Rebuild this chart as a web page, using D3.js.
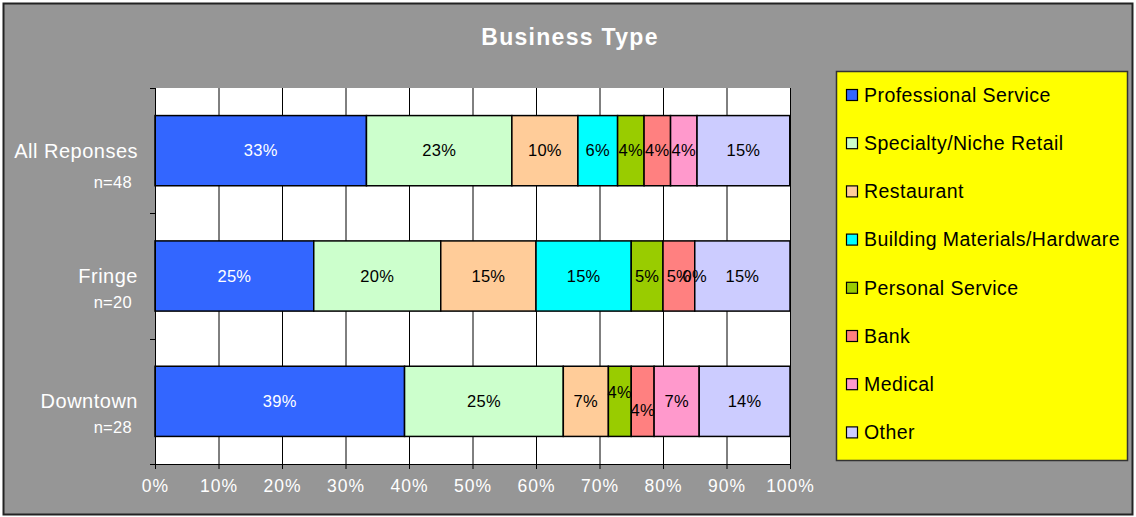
<!DOCTYPE html>
<html>
<head>
<meta charset="utf-8">
<script src="https://cdn.jsdelivr.net/npm/d3@7"></script>
<style>
  body { margin: 0; background: #fff; }
  svg { display: block; font-family: "Liberation Sans", Arial, sans-serif; }
</style>
</head>
<body>
<div id="chart"></div>
<script>
var categories = ['All Reponses', 'Fringe', 'Downtown'];
var counts = ['n=48', 'n=20', 'n=28'];
var seriesNames = ['Professional Service', 'Specialty/Niche Retail', 'Restaurant',
  'Building Materials/Hardware', 'Personal Service', 'Bank', 'Medical', 'Other'];
var seriesColors = ['#3366ff', '#ccffcc', '#ffcc99', '#00ffff', '#99cc00', '#ff8080', '#ff99cc', '#ccccff'];
// percent share per category, in series order (null = no data)
var allValues = [33.3, 22.9, 10.4, 6.25, 4.17, 4.17, 4.17, 14.6];
var fringeValues = [25, 20, 15, 15, 5, 5, 0, 15];
var downtownValues = [39.3, 25, 7.1, null, 3.6, 3.6, 7.1, 14.3];
var xTicks = [0, 10, 20, 30, 40, 50, 60, 70, 80, 90, 100];

var values = [allValues, fringeValues, downtownValues];

var W = 1136, H = 517;
var plot = { left: 155, right: 790, top: 88, bottom: 464 };

var svg = d3.select('#chart').append('svg')
    .attr('width', W)
    .attr('height', H);

// chart background and frame
svg.append('rect')
    .attr('x', 3.5).attr('y', 3.5)
    .attr('width', 1129).attr('height', 511)
    .attr('fill', '#969696')
    .attr('stroke', '#222').attr('stroke-width', 2);

svg.append('text')
    .attr('x', 570).attr('y', 45)
    .attr('text-anchor', 'middle')
    .attr('fill', '#fff')
    .attr('font-size', 23).attr('font-weight', 'bold')
    .attr('letter-spacing', 1.3)
    .text('Business Type');

var x = d3.scaleLinear().domain([0, 100]).range([plot.left, plot.right]);
var y = d3.scaleBand().domain(categories).range([plot.top, plot.bottom]).paddingInner(0.44).paddingOuter(0.22);

svg.append('rect')
    .attr('x', plot.left).attr('y', plot.top)
    .attr('width', plot.right - plot.left).attr('height', plot.bottom - plot.top)
    .attr('fill', '#fff');

// vertical gridlines
svg.append('g').selectAll('line')
    .data(xTicks.slice(1))
    .enter().append('line')
    .attr('x1', d => x(d) + 0.5).attr('x2', d => x(d) + 0.5)
    .attr('y1', plot.top).attr('y2', plot.bottom)
    .attr('stroke', '#000').attr('stroke-width', 1);

// stacked bars
var rows = svg.append('g').selectAll('g')
    .data(categories)
    .enter().append('g');

rows.each(function(cat, ci) {
  var start = 0;
  var segs = [];
  values[ci].forEach((v, si) => {
    if (v === null) return;
    segs.push({ x0: start, x1: start + v, v: v, si: si });
    start += v;
  });
  // narrow neighbours get their labels staggered up / down
  var flip = -1;
  segs.forEach(d => {
    var w = x(d.x1) - x(d.x0);
    if (w > 0 && w < 25) { d.dy = flip * 9; flip = -flip; } else { d.dy = 0; }
  });
  var g = d3.select(this);
  g.selectAll('rect')
      .data(segs)
      .enter().append('rect')
      .attr('x', d => x(d.x0))
      .attr('y', y(cat))
      .attr('width', d => x(d.x1) - x(d.x0))
      .attr('height', y.bandwidth())
      .attr('fill', d => seriesColors[d.si])
      .attr('stroke', '#000').attr('stroke-width', 1.5);
  g.selectAll('text')
      .data(segs)
      .enter().append('text')
      .attr('x', d => x((d.x0 + d.x1) / 2))
      .attr('y', d => y(cat) + y.bandwidth() / 2 + d.dy)
      .attr('dy', '0.35em')
      .attr('text-anchor', 'middle')
      .attr('font-size', 16.5)
      .attr('letter-spacing', 0.3)
      .attr('fill', d => d.si === 0 ? '#fff' : '#000')
      .text(d => Math.round(d.v) + '%');
});

// y axis
var yTicks = d3.range(categories.length + 1).map(i => plot.top + i * (plot.bottom - plot.top) / categories.length);
svg.append('line')
    .attr('x1', plot.left + 0.5).attr('x2', plot.left + 0.5)
    .attr('y1', plot.top).attr('y2', plot.bottom)
    .attr('stroke', '#000');
svg.append('g').selectAll('line')
    .data(yTicks)
    .enter().append('line')
    .attr('x1', plot.left - 5).attr('x2', plot.left)
    .attr('y1', d => Math.round(d) + 0.5).attr('y2', d => Math.round(d) + 0.5)
    .attr('stroke', '#000');

// category labels
var catLabels = svg.append('g').selectAll('g')
    .data(categories)
    .enter().append('g')
    .attr('fill', '#fff')
    .attr('text-anchor', 'end');
catLabels.append('text')
    .attr('x', 138)
    .attr('y', d => y(d) + y.bandwidth() / 2)
    .attr('dy', '0.35em')
    .attr('font-size', 20)
    .attr('letter-spacing', 0.5)
    .text(d => d);
catLabels.append('text')
    .attr('x', 132)
    .attr('y', (d, i) => y(d) + y.bandwidth() / 2 + (i === 0 ? 32 : 26))
    .attr('dy', '0.35em')
    .attr('font-size', 16.5)
    .attr('letter-spacing', 0.3)
    .text((d, i) => counts[i]);

// x axis
var xAxis = svg.append('g')
    .attr('transform', 'translate(0,' + plot.bottom + ')')
    .call(d3.axisBottom(x).tickValues(xTicks).tickSize(5).tickFormat(d => d + '%'));
xAxis.select('.domain').attr('stroke', '#000').attr('d', 'M' + plot.left + ',0.5H' + plot.right);
xAxis.selectAll('.tick line').attr('stroke', '#000');
xAxis.selectAll('.tick text')
    .attr('fill', '#fff')
    .attr('font-size', 17.5)
    .attr('letter-spacing', 1)
    .attr('font-family', '"Liberation Sans", Arial, sans-serif')
    .attr('y', 22)
    .attr('dy', '0.35em');

// legend
var legend = svg.append('g');
legend.append('rect')
    .attr('x', 836.5).attr('y', 71.5)
    .attr('width', 291).attr('height', 389)
    .attr('fill', '#ffff00')
    .attr('stroke', '#333').attr('stroke-width', 1.5);
var items = legend.selectAll('g.item')
    .data(seriesNames)
    .enter().append('g')
    .attr('class', 'item')
    .attr('transform', (d, i) => 'translate(846,' + (95 + i * 48.2) + ')');
items.append('rect')
    .attr('x', 0.5).attr('y', -5.5)
    .attr('width', 11).attr('height', 11)
    .attr('fill', (d, i) => seriesColors[i])
    .attr('stroke', '#000').attr('stroke-width', 1.2);
items.append('text')
    .attr('x', 18)
    .attr('dy', '0.35em')
    .attr('font-size', 19.5)
    .attr('letter-spacing', 0.45)
    .attr('fill', '#000')
    .text(d => d);
</script>
</body>
</html>
